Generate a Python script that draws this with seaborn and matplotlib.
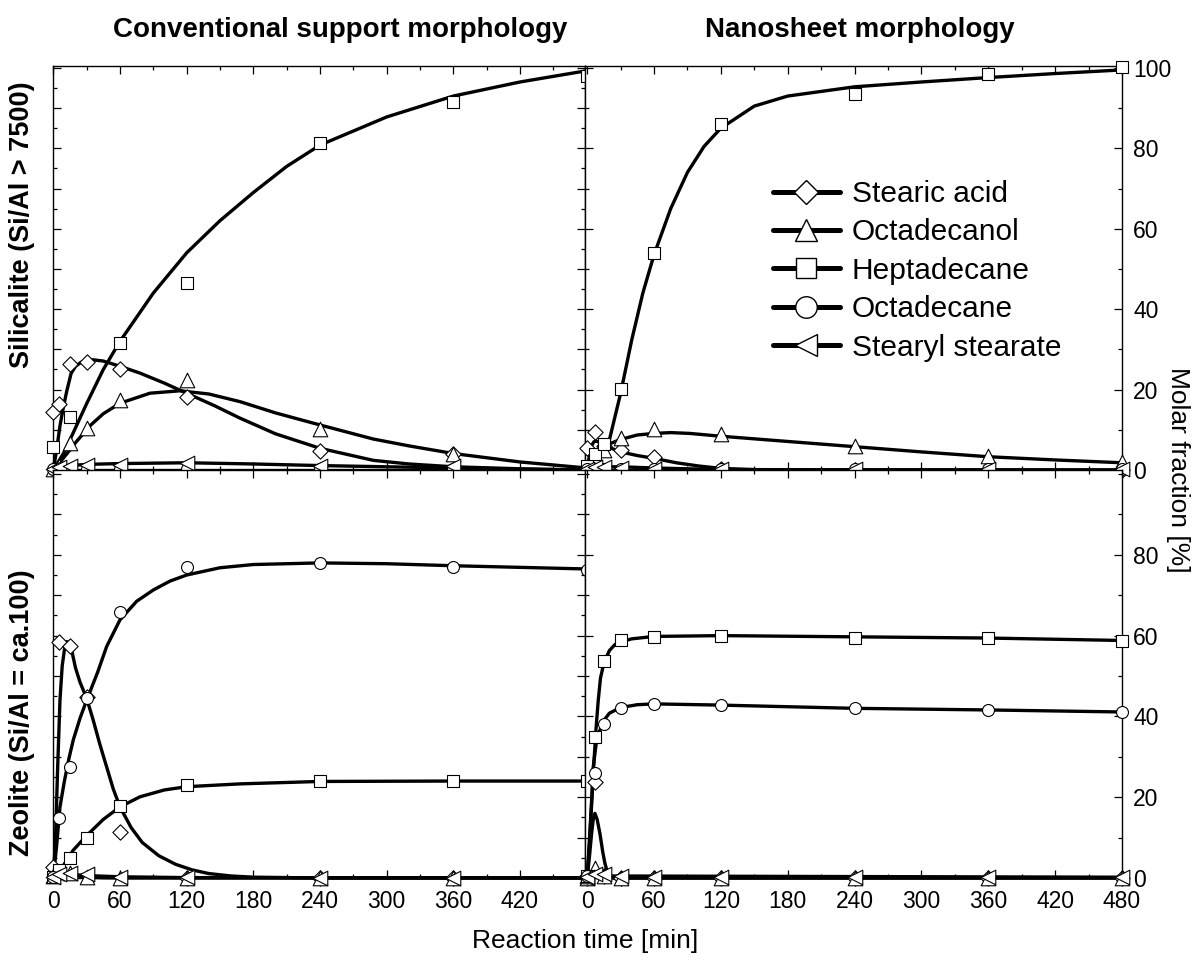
import numpy as np
import pandas as pd
import matplotlib
matplotlib.use("Agg")
import matplotlib.pyplot as plt
from matplotlib.lines import Line2D
from matplotlib.ticker import MultipleLocator, FixedLocator
import seaborn as sns

# ---------------- data ----------------
species = ["Stearic acid", "Octadecanol", "Heptadecane", "Octadecane", "Stearyl stearate"]
marker_of = {"Stearic acid": "D", "Octadecanol": "^", "Heptadecane": "s",
             "Octadecane": "o", "Stearyl stearate": "<"}
nan = np.nan

sample_time = [0, 5, 15, 30, 60, 120, 240, 360, 480]

# top-left: Silicalite, conventional support (measured points)
tl_sa = [14.5, 16.4, 26.4, 26.9, 25.1, 18.2, 4.8, 4.0, 0.3]
tl_ol = [0.3, 1.0, 6.6, 10.4, 17.4, 22.4, 10.1, 4.0, 1.0]
tl_hd = [5.6, nan, 13.3, nan, 31.6, 46.4, 81.3, 91.5, 98.1]
tl_od = [0.2, 0.2, 0.2, 0.2, 0.2, 0.2, 0.2, 0.2, 0.2]
tl_ss = [0.3, 0.8, 1.0, 1.2, 1.2, 1.7, 1.0, 1.0, 0.5]

# top-right: Silicalite, nanosheet
tr_time = [0, 7, 15, 30, 60, 120, 240, 360, 480]
tr_sa = [5.4, 9.5, 6.0, 5.0, 3.2, 0.3, 0.1, 0.1, 0.1]
tr_ol = [0.5, 3.5, 5.0, 7.9, 10.1, 8.9, 6.0, 3.6, 2.1]
tr_hd = [1.0, 4.0, 6.5, 20.1, 54.0, 86.1, 93.6, 98.6, 100.2]
tr_od = [0.2, 0.2, 0.2, 0.2, 0.2, 0.2, 0.2, 0.2, 0.2]
tr_ss = [0.3, 0.8, 0.8, 0.5, 0.3, 0.2, 0.2, 0.2, 0.2]

# bottom-left: Zeolite, conventional support
bl_sa = [2.8, 58.5, 57.4, 44.9, 11.5, 0.1, 0.1, 0.1, 0.1]
bl_ol = [0.5, 1.5, 1.2, 0.3, 0.1, 0.1, 0.1, 0.1, 0.1]
bl_hd = [0.3, 2.0, 4.9, 9.8, 17.9, 23.0, 24.0, 24.0, 24.0]
bl_od = [0.3, 14.8, 27.5, 44.5, 65.8, 76.9, 78.0, 77.0, 76.3]
bl_ss = [0.3, 1.0, 1.2, 1.0, 0.2, 0.2, 0.1, 0.1, 0.1]

# bottom-right: Zeolite, nanosheet
br_sa = [0.5, 23.8, 0.5, 0.1, 0.1, 0.1, 0.1, 0.1, 0.1]
br_ol = [0.5, 2.5, 0.5, 0.1, 0.1, 0.1, 0.1, 0.1, 0.1]
br_hd = [0.5, 35.0, 53.8, 58.9, 59.7, 59.9, 59.4, 59.4, 58.7]
br_od = [0.5, 25.9, 38.0, 42.2, 43.1, 42.8, 42.1, 41.6, 41.1]
br_ss = [0.3, 1.0, 1.0, 0.5, 0.3, 0.2, 0.2, 0.2, 0.2]

# fitted model curves
tl_sa_fit_t = [0, 3, 6, 9, 12, 16, 20, 25, 30, 36, 45, 60, 78, 100, 120, 145, 168, 200, 240, 288, 320, 360, 420, 480]
tl_sa_fit = [0, 5, 11, 15.5, 19.5, 24, 25.8, 26.8, 27.3, 27.4, 27.1, 25.8, 24.1, 21.6, 19.1, 16, 12.9, 9.0, 5.4, 2.4, 1.5, 0.8, 0.3, 0]
tl_ol_fit_t = [0, 5, 10, 15, 20, 25, 33, 45, 60, 87, 114, 140, 168, 200, 240, 288, 320, 360, 420, 480]
tl_ol_fit = [0, 1.5, 3.3, 5.0, 6.8, 8.4, 11.0, 14.0, 16.6, 19.1, 19.7, 18.9, 17.0, 14.2, 11.2, 7.7, 6.0, 4.1, 2.0, 0.5]
tl_hd_fit_t = [0, 10, 20, 30, 45, 60, 90, 120, 150, 180, 210, 240, 300, 360, 420, 480]
tl_hd_fit = [0, 4.5, 10.5, 16.5, 25, 32, 44, 54, 62, 69, 75.5, 80.8, 87.8, 93, 96.5, 99.3]
tl_od_fit_t = [0, 480]
tl_od_fit = [0, 0]
tl_ss_fit_t = [0, 10, 30, 60, 120, 180, 240, 300, 360, 420, 480]
tl_ss_fit = [0, 1.0, 1.4, 1.6, 1.8, 1.5, 1.1, 0.8, 0.5, 0.2, 0]

tr_sa_fit_t = [0, 2, 4, 6, 8, 10, 15, 20, 30, 45, 60, 80, 100, 120, 160, 480]
tr_sa_fit = [0, 3.5, 6.0, 7.0, 7.2, 7.0, 6.3, 5.6, 4.5, 3.6, 2.9, 1.8, 1.0, 0.4, 0, 0]
tr_ol_fit_t = [0, 5, 10, 15, 20, 30, 45, 60, 75, 92, 120, 180, 240, 300, 360, 420, 480]
tr_ol_fit = [0, 2.0, 4.0, 5.5, 6.5, 7.6, 8.7, 9.1, 9.3, 9.1, 8.4, 7.1, 5.8, 4.5, 3.3, 2.5, 1.8]
tr_hd_fit_t = [0, 10, 20, 30, 40, 50, 60, 75, 90, 105, 120, 150, 180, 240, 300, 360, 420, 480]
tr_hd_fit = [0, 2.5, 7.5, 19, 32.3, 44, 53.5, 65, 74, 80.5, 85, 90.5, 93, 95.3, 96.5, 97.6, 98.6, 99.5]
tr_od_fit_t = [0, 480]
tr_od_fit = [0, 0]
tr_ss_fit_t = [0, 10, 30, 60, 120, 480]
tr_ss_fit = [0, 0.8, 0.8, 0.5, 0.1, 0]

bl_sa_fit_t = [0, 2, 4, 6, 8, 10, 12, 15, 20, 24, 30, 36, 42, 48, 54, 60, 70, 80, 95, 110, 125, 140, 160, 180, 240, 480]
bl_sa_fit = [0, 10, 28, 44, 52.5, 56.5, 58.5, 58.3, 52, 48.5, 44.5, 39, 33, 27.5, 22, 17.6, 12.5, 8.8, 5.5, 3.4, 2.0, 1.1, 0.5, 0.2, 0, 0]
bl_ol_fit_t = [0, 5, 10, 20, 30, 45, 60, 480]
bl_ol_fit = [0, 1.2, 1.0, 0.5, 0.2, 0.05, 0, 0]
bl_hd_fit_t = [0, 5, 10, 18, 30, 45, 60, 78, 100, 120, 168, 240, 360, 480]
bl_hd_fit = [0, 1.2, 3.5, 6.9, 10.5, 14.5, 17.6, 20.1, 21.8, 22.6, 23.3, 23.9, 24, 24]
bl_od_fit_t = [0, 3, 6, 10, 14, 18, 24, 30, 40, 48, 60, 75, 90, 105, 120, 150, 180, 240, 300, 360, 420, 480]
bl_od_fit = [0, 8, 17.6, 24, 29.5, 34.2, 39.5, 44, 51, 57.3, 63.9, 68.5, 71.3, 73.5, 75, 76.8, 77.6, 78, 77.8, 77.3, 76.9, 76.5]
bl_ss_fit_t = [0, 5, 15, 30, 60, 120, 480]
bl_ss_fit = [0, 0.8, 0.9, 0.6, 0.3, 0.1, 0.05]

br_sa_fit_t = [0, 2, 4, 5.5, 7, 9, 11.5, 14, 16, 18, 20.5, 25, 480]
br_sa_fit = [0, 5, 11, 14.5, 16, 14.5, 11, 6.5, 3.6, 1.6, 0.3, 0, 0]
br_ol_fit_t = [0, 3, 6, 10, 15, 20, 480]
br_ol_fit = [0, 1, 1.5, 0.8, 0.2, 0, 0]
br_hd_fit_t = [0, 2, 4, 5.5, 8, 10, 12, 15, 17.5, 20, 25, 30, 40, 60, 120, 240, 360, 480]
br_hd_fit = [0, 8, 18, 25.9, 37, 44, 49.5, 53.2, 54.8, 56.3, 57.8, 58.4, 59.2, 59.8, 60, 59.7, 59.4, 58.8]
br_od_fit_t = [0, 2, 4, 5.5, 8, 11.5, 15, 20, 30, 45, 60, 120, 240, 360, 480]
br_od_fit = [0, 9, 19, 27.5, 33, 36.6, 39, 40.8, 42.2, 42.9, 43.1, 42.8, 42, 41.6, 41.1]
br_ss_fit_t = [0, 5, 15, 480]
br_ss_fit = [0, 0.6, 0.5, 0.2]

panels = {
    "tl": (sample_time, [tl_sa, tl_ol, tl_hd, tl_od, tl_ss],
           [(tl_sa_fit_t, tl_sa_fit), (tl_ol_fit_t, tl_ol_fit), (tl_hd_fit_t, tl_hd_fit),
            (tl_od_fit_t, tl_od_fit), (tl_ss_fit_t, tl_ss_fit)]),
    "tr": (tr_time, [tr_sa, tr_ol, tr_hd, tr_od, tr_ss],
           [(tr_sa_fit_t, tr_sa_fit), (tr_ol_fit_t, tr_ol_fit), (tr_hd_fit_t, tr_hd_fit),
            (tr_od_fit_t, tr_od_fit), (tr_ss_fit_t, tr_ss_fit)]),
    "bl": (sample_time, [bl_sa, bl_ol, bl_hd, bl_od, bl_ss],
           [(bl_sa_fit_t, bl_sa_fit), (bl_ol_fit_t, bl_ol_fit), (bl_hd_fit_t, bl_hd_fit),
            (bl_od_fit_t, bl_od_fit), (bl_ss_fit_t, bl_ss_fit)]),
    "br": (tr_time, [br_sa, br_ol, br_hd, br_od, br_ss],
           [(br_sa_fit_t, br_sa_fit), (br_ol_fit_t, br_ol_fit), (br_hd_fit_t, br_hd_fit),
            (br_od_fit_t, br_od_fit), (br_ss_fit_t, br_ss_fit)]),
}

# ---------------- style ----------------
sns.set_theme(style="ticks")
plt.rcParams["font.family"] = ["Liberation Sans", "DejaVu Sans"]
plt.rcParams["axes.linewidth"] = 1.0
plt.rcParams["text.color"] = "black"
plt.rcParams["axes.labelcolor"] = "black"
plt.rcParams["xtick.color"] = "black"
plt.rcParams["ytick.color"] = "black"

W, H = 1196, 961
fig = plt.figure(figsize=(W / 100, H / 100), dpi=100)

def px_rect(x0, y0, x1, y1):
    return [x0 / W, 1 - y1 / H, (x1 - x0) / W, (y1 - y0) / H]

axes = {
    "tl": fig.add_axes(px_rect(53.3, 65.5, 585, 470)),
    "tr": fig.add_axes(px_rect(585, 65.5, 1122, 470)),
    "bl": fig.add_axes(px_rect(53.3, 470, 585, 878)),
    "br": fig.add_axes(px_rect(585, 470, 1122, 878)),
}

ms_pts = {"D": 7.8, "^": 10.5, "s": 8.0, "o": 8.6, "<": 10.5}

for key, ax in axes.items():
    t_pts, vals, fits = panels[key]
    for sp, v, (ft, fv) in zip(species, vals, fits):
        sns.lineplot(x=ft, y=fv, ax=ax, color="black", lw=2.4, sort=False,
                     estimator=None, legend=False, clip_on=False, zorder=3)
    for sp, v in zip(species, vals):
        m = marker_of[sp]
        df = pd.DataFrame({"t": t_pts, "v": v}).dropna()
        sns.scatterplot(data=df, x="t", y="v", ax=ax, marker=m, s=ms_pts[m] ** 2,
                        color="white", edgecolor="black", linewidth=0.8,
                        legend=False, clip_on=False, zorder=5)
    ax.set_xlabel("")
    ax.set_ylabel("")
    ax.set_facecolor("white")
    for s in ax.spines.values():
        s.set_visible(True)
        s.set_color("black")
        s.set_linewidth(1.0)

    left = key.endswith("l")
    top = key.startswith("t")
    if left:
        ax.set_xlim(0, 478.5)
        ax.yaxis.set_major_locator(MultipleLocator(10))
        ax.yaxis.set_minor_locator(MultipleLocator(5))
    else:
        ax.set_xlim(-1.9, 480)
        if top:
            ax.yaxis.set_major_locator(FixedLocator([0, 20, 40, 60, 80, 100]))
        else:
            ax.yaxis.set_major_locator(FixedLocator([0, 20, 40, 60, 80]))
        ax.yaxis.set_minor_locator(MultipleLocator(10))
    ax.set_ylim(0, 100.6 if top else 101)
    ax.xaxis.set_major_locator(MultipleLocator(60))
    ax.xaxis.set_minor_locator(MultipleLocator(30))
    ax.tick_params(which="both", direction="in", top=True, bottom=True,
                   left=True, right=True, color="black", width=0.9,
                   labelsize=16.5, labelcolor="black")
    ax.tick_params(which="major", length=5.5)
    ax.tick_params(which="minor", length=2.8)
    ax.tick_params(axis="y", labelleft=False, labelright=not left, pad=8)
    ax.tick_params(axis="x", labelbottom=not top, labeltop=False, pad=9)

# ---------------- text ----------------
fig.text(340 / W, 1 - 30 / H, "Conventional support morphology", ha="center", va="center",
         fontsize=20, fontweight="bold")
fig.text(860 / W, 1 - 30 / H, "Nanosheet morphology", ha="center", va="center",
         fontsize=20, fontweight="bold")
fig.text(22 / W, 1 - 225 / H, "Silicalite (Si/Al > 7500)", ha="center", va="center",
         rotation=90, fontsize=19.5, fontweight="bold")
fig.text(22 / W, 1 - 713 / H, "Zeolite (Si/Al = ca.100)", ha="center", va="center",
         rotation=90, fontsize=19.5, fontweight="bold")
fig.text(1178 / W, 1 - 470 / H, "Molar fraction [%]", ha="center", va="center",
         rotation=270, fontsize=19)
fig.text(585 / W, 1 - 941 / H, "Reaction time [min]", ha="center", va="center",
         fontsize=19)

# ---------------- legend ----------------
leg_ms = {"D": 12, "^": 16.5, "s": 14.5, "o": 15.5, "<": 16.5}
handles = [Line2D([0], [0], color="black", lw=3.6, marker=marker_of[sp],
                  markersize=leg_ms[marker_of[sp]], markerfacecolor="white",
                  markeredgecolor="black", markeredgewidth=1.0) for sp in species]
fig.legend(handles, species, loc="upper left",
           bbox_to_anchor=(772.7 / W, 1 - 180 / H), bbox_transform=fig.transFigure,
           frameon=False, fontsize=21.5, handlelength=2.25, handletextpad=0.4,
           labelspacing=0.35, borderpad=0, borderaxespad=0)

fig.savefig("out.png", dpi=100, facecolor="white")
